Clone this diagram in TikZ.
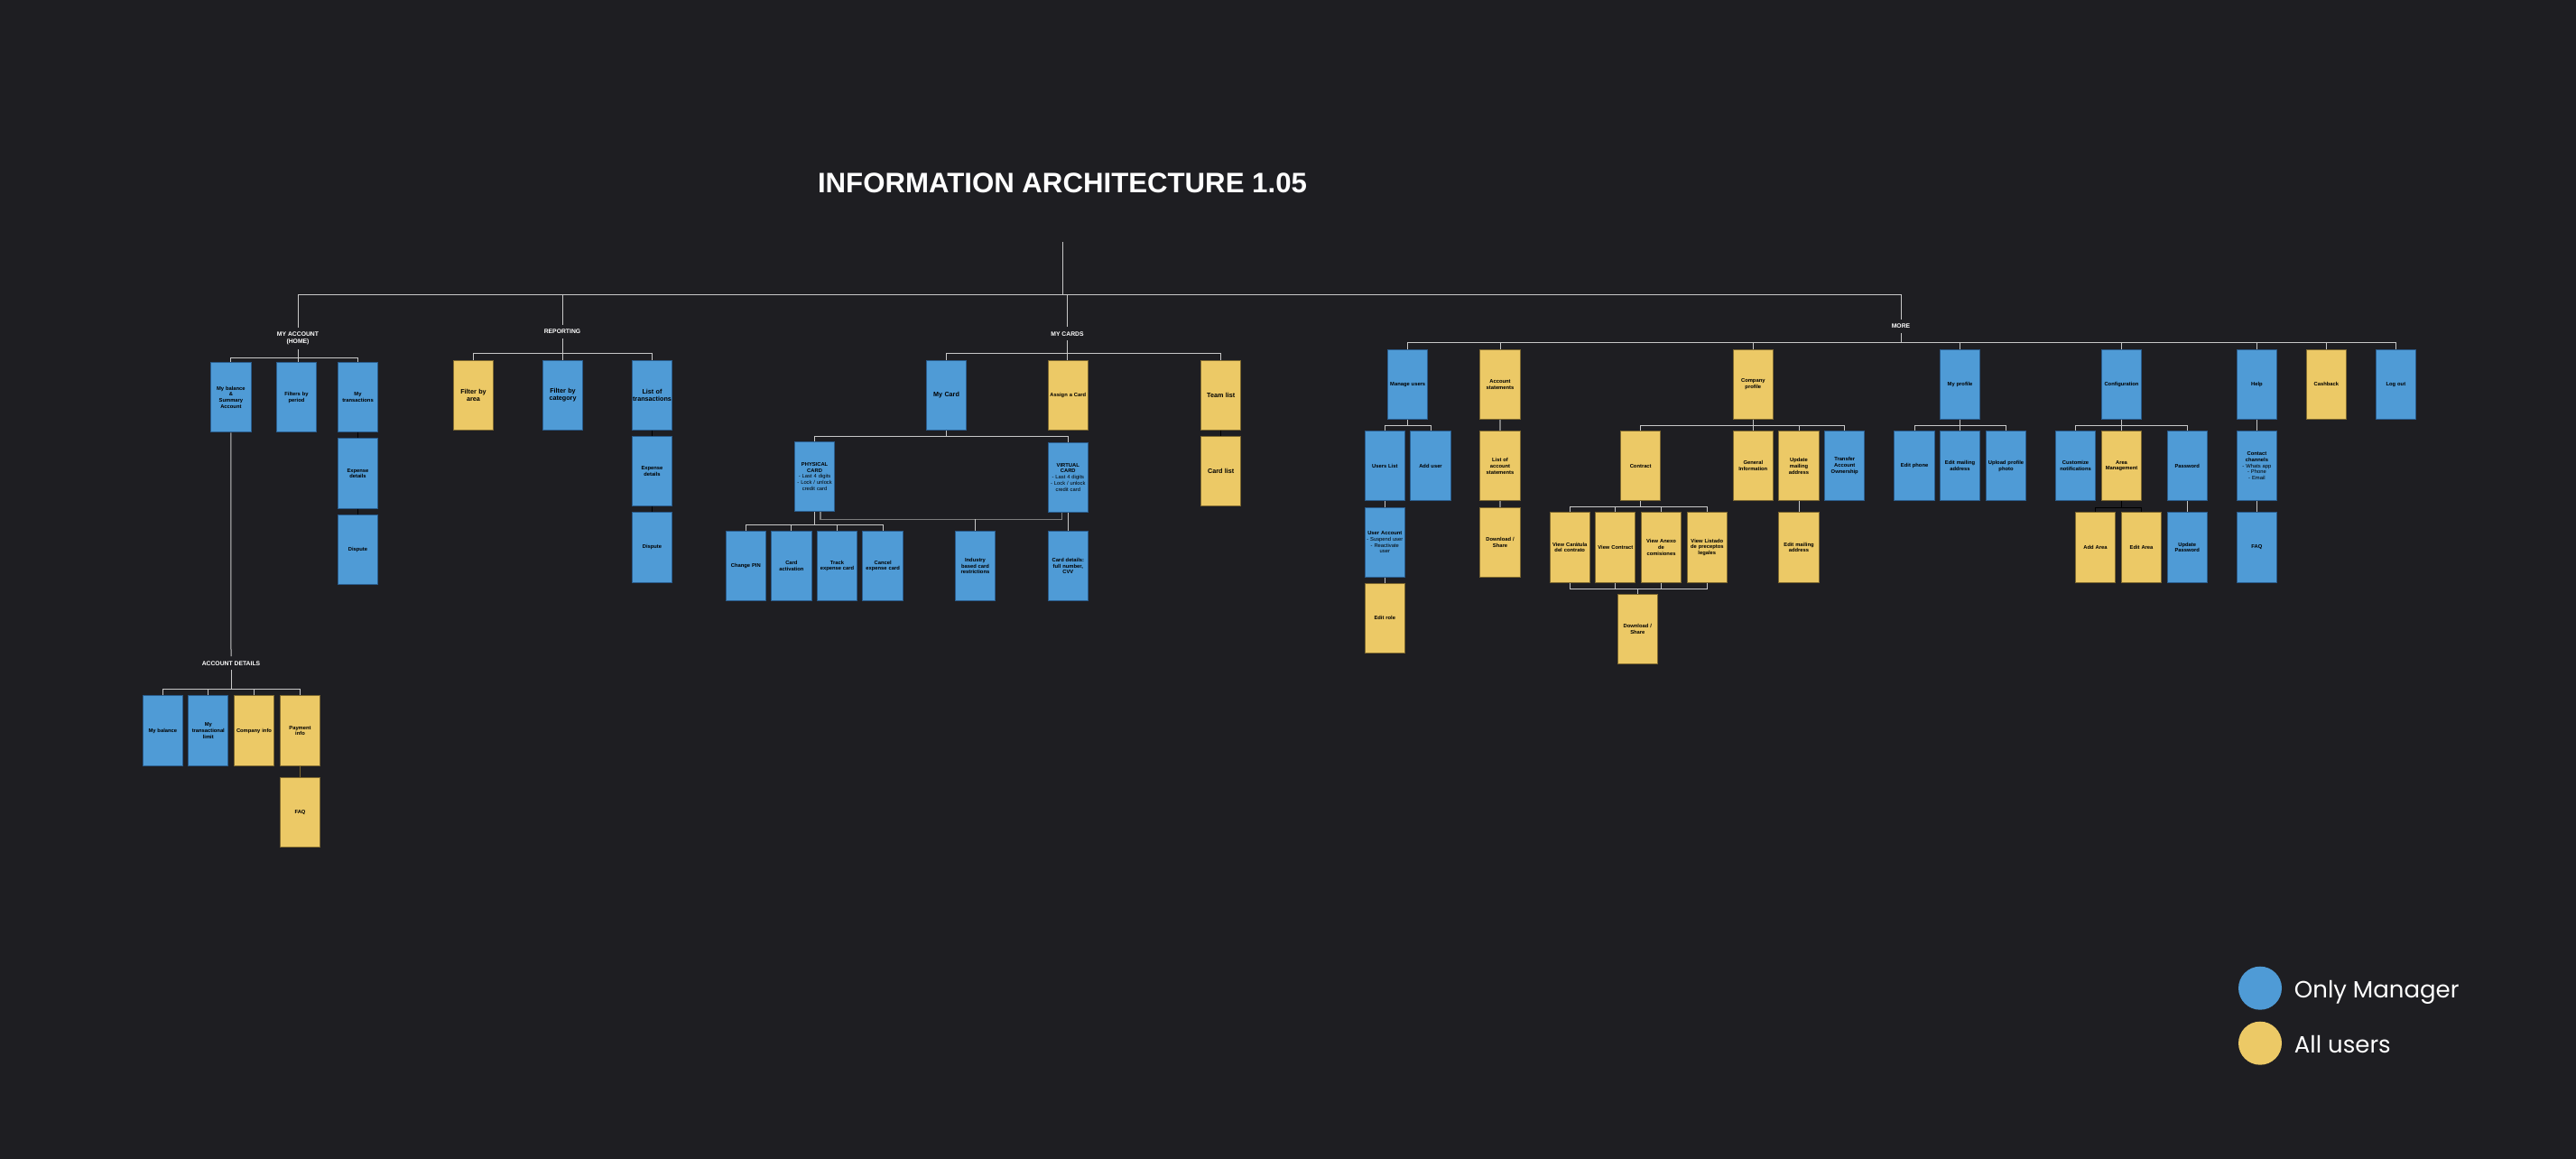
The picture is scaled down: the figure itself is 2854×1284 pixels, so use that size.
\documentclass[tikz,border=0pt]{standalone}
\usepackage{fontspec}
\setmainfont{Liberation Sans}
\newfontfamily\legendfont{Poppins}
\usetikzlibrary{calc}
\definecolor{bgc}{RGB}{30,30,34}
\definecolor{blueF}{RGB}{79,155,214}
\definecolor{blueD}{RGB}{42,92,140}
\definecolor{yelF}{RGB}{236,201,102}
\definecolor{yelD}{RGB}{125,104,48}
\definecolor{lineC}{RGB}{200,200,200}
\definecolor{lineM}{RGB}{125,125,125}
\begin{document}
\begin{tikzpicture}[x=1pt,y=-1pt,
 box/.style={rectangle, minimum width=44.3pt, minimum height=77.3pt, inner sep=0pt, text width=44pt, align=center, line width=1pt, font=\fontsize{5.8}{6.8}\selectfont\bfseries, text=black},
 mgr/.style={box, fill=blueF, draw=blueD},
 alu/.style={box, fill=yelF, draw=yelD},
 big/.style={font=\fontsize{7.2}{8.3}\selectfont\bfseries},
 thinfont/.style={font=\fontsize{5.8}{6.8}\selectfont},
 lbl/.style={text=white, font=\fontsize{6.8}{8.3}\selectfont\bfseries, align=center, inner xsep=2pt, inner ysep=5pt},
 conn/.style={draw=lineC, line width=1pt},
 dk/.style={draw=black, line width=1pt},
 md/.style={draw=lineM, line width=1.6pt},
 legdot/.style={circle, minimum size=48pt, inner sep=0pt},
 legtxt/.style={anchor=base west, text=white, inner sep=0pt, font=\legendfont\fontsize{26}{30}\selectfont}
]
\fill[bgc] (0,0) rectangle (2854,1284);
\useasboundingbox (0,0) rectangle (2854,1284);

% ---------- title and top level ----------
\node[text=white, font=\fontsize{31.2}{36}\selectfont\bfseries, anchor=base, inner sep=0pt] (tt) at (1177,213.3) {INFORMATION ARCHITECTURE 1.05};
\coordinate (ttl) at (1177,268);
\coordinate (hub) at (1177,326);

\node[lbl] (lbl1) at (330,375) {MY ACCOUNT\\(HOME)};
\node[lbl] (lbl2) at (623,367.3) {REPORTING};
\node[lbl] (lbl3) at (1182.5,369.7) {MY CARDS};
\node[lbl] (lbl4) at (2106,361.3) {MORE};
\node[lbl] (lbl5) at (256,734.7) {ACCOUNT DETAILS};

% ---------- my account ----------
\node[mgr] (mab) at (255.9,440.3) {My balance\\\&\\Summary\\Account};
\node[mgr] (fbp) at (328.5,440.3) {Filters by\\period};
\node[mgr] (myt) at (396.5,440.3) {My\\transactions};
\node[mgr] (exd1) at (396.5,524.5) {Expense\\details};
\node[mgr] (dsp1) at (396.5,608.7) {Dispute};

% ---------- account details ----------
\node[mgr] (adb) at (180.3,809.5) {My balance};
\node[mgr] (adl) at (230.8,809.5) {My\\transactional\\limit};
\node[alu] (adc) at (281.5,809.5) {Company info};
\node[alu] (adp) at (332.5,809.5) {Payment\\info};
\node[alu] (adf) at (332.5,899.8) {FAQ};

% ---------- reporting ----------
\node[alu,big] (fba) at (524.5,438) {Filter by\\area};
\node[mgr,big] (fbc) at (623.5,438) {Filter by\\category};
\node[mgr,big] (lot) at (722.5,438) {List of\\transactions};
\node[mgr] (exd2) at (722.5,522.2) {Expense\\details};
\node[mgr] (dsp2) at (722.5,606.4) {Dispute};

% ---------- my cards ----------
\node[mgr,big] (myc) at (1048.5,438) {My Card};
\node[alu] (asc) at (1183.3,438) {Assign a Card};
\node[alu,big] (tml) at (1352.7,438) {Team list};
\node[alu,big] (cdl) at (1352.7,522.2) {Card list};
\node[mgr,thinfont] (phy) at (902.6,528) {\textbf{PHYSICAL}\\\textbf{CARD}\\- Last 4 digits\\- Lock / unlock\\credit card};
\node[mgr,thinfont] (vir) at (1183.3,528.8) {\textbf{VIRTUAL}\\\textbf{CARD}\\- Last 4 digits\\- Lock / unlock\\credit card};
\node[mgr] (cpin) at (826.3,627) {Change PIN};
\node[mgr] (cact) at (876.9,627) {Card\\activation};
\node[mgr] (trk) at (927.5,627) {Track\\expense card};
\node[mgr] (cnl) at (978.1,627) {Cancel\\expense card};
\node[mgr] (ind) at (1080.5,627) {Industry\\based card\\restrictions};
\node[mgr] (cdd) at (1183.3,627) {Card details:\\full number,\\CVV};

% ---------- more ----------
\node[mgr] (mu) at (1559.7,425.7) {Manage users};
\node[alu] (as) at (1662,425.7) {Account\\statements};
\node[alu] (cp) at (1942.3,425.7) {Company\\profile};
\node[mgr] (mp) at (2171.5,425.7) {My profile};
\node[mgr] (cfg) at (2350.5,425.7) {Configuration};
\node[mgr] (hlp) at (2500.4,425.7) {Help};
\node[alu] (cb) at (2577.3,425.7) {Cashback};
\node[mgr] (lo) at (2654.4,425.7) {Log out};

\node[mgr] (ul) at (1534.3,516.2) {Users List};
\node[mgr] (au) at (1585,516.2) {Add user};
\node[alu] (las) at (1662,516.2) {List of\\account\\statements};
\node[alu] (ctr) at (1817.7,516.2) {Contract};
\node[alu] (gi) at (1942.3,516.2) {General\\Information};
\node[alu] (uma) at (1993,516.2) {Update\\mailing\\address};
\node[mgr] (tao) at (2043.7,516.2) {Transfer\\Account\\Ownership};
\node[mgr] (ep) at (2121.1,516.2) {Edit phone};
\node[mgr] (ema) at (2171.5,516.2) {Edit mailing\\address};
\node[mgr] (upp) at (2222.5,516.2) {Upload profile\\photo};
\node[mgr] (cn) at (2299.5,516.2) {Customize\\notifications};
\node[alu] (am) at (2350.5,516.2) {Area\\Management};
\node[mgr] (pw) at (2423.2,516.2) {Password};
\node[mgr,thinfont] (cc) at (2500.4,516.2) {\textbf{Contact}\\\textbf{channels}\\- Whats app\\- Phone\\- Email};

\node[mgr,thinfont] (ua) at (1534.3,600.7) {\textbf{User Account}\\- Suspend user\\- Reactivate\\user};
\node[alu] (dls) at (1662,600.7) {Download /\\Share};
\node[alu] (vcc) at (1739.2,606.4) {View Carátula\\del contrato};
\node[alu] (vc) at (1789.8,606.4) {View Contract};
\node[alu] (vac) at (1840.5,606.4) {View Anexo\\de\\comisiones};
\node[alu] (vlp) at (1891.3,606.4) {View Listado\\de preceptos\\legales};
\node[alu] (ema2) at (1993,606.4) {Edit mailing\\address};
\node[alu] (aa) at (2321.5,606.4) {Add Area};
\node[alu] (ea) at (2372.5,606.4) {Edit Area};
\node[mgr] (up) at (2423.2,606.4) {Update\\Password};
\node[mgr] (faq2) at (2500.4,606.4) {FAQ};

\node[alu] (er) at (1534.3,684.7) {Edit role};
\node[alu] (dls2) at (1814.3,697) {Download /\\Share};

% ---------- connectors: top ----------
\draw[conn] (ttl) -- (hub);
\draw[conn] (lbl1.north) -- (lbl1.north |- hub) -- (lbl4.north |- hub) -- (lbl4.north);
\draw[conn] (lbl2.north) -- (lbl2.north |- hub);
\draw[conn] (lbl3.north) -- (lbl3.north |- hub);

% my account
\draw[conn] (mab.north) -- ++(0,-5) -| (myt.north);
\draw[conn] (lbl1.south) -- (lbl1.south |- fbp.north);
\draw[dk] (myt.south) -- (exd1.north);
\draw[dk] (exd1.south) -- (dsp1.north);
\draw[conn] (mab.south) -- (lbl5.north);

% account details
\draw[conn] (adb.north) -- ++(0,-6.7) -| (adp.north);
\draw[conn] (adl.north) -- ++(0,-6.7);
\draw[conn] (adc.north) -- ++(0,-6.7);
\draw[conn] (lbl5.south) -- ($(lbl5.south |- adb.north)+(0,-6.7)$);
\draw[draw=yelD, line width=1pt] (adp.south) -- (adf.north);

% reporting
\draw[conn] (fba.north) -- ++(0,-7) -| (lot.north);
\draw[conn] (lbl2.south) -- (lbl2.south |- fbc.north);
\draw[dk] (lot.south) -- (exd2.north);
\draw[dk] (exd2.south) -- (dsp2.north);

% my cards
\draw[conn] (myc.north) -- ++(0,-7) -| (tml.north);
\draw[conn] (lbl3.south) -- (lbl3.south |- asc.north);
\draw[dk] (tml.south) -- (cdl.north);
\draw[conn] (myc.south) -- ++(0,6.6) -| (phy.north);
\draw[conn] (myc.south) -- ++(0,6.6) -| (vir.north);
\foreach \c in {cpin,cact,trk,cnl} \draw[conn] (phy.south) -- ++(0,14.6) -| (\c.north);
\draw[md] ([xshift=6.3pt]phy.south) -- ++(0,8.3) -| ([xshift=-6.7pt]vir.south);
\draw[conn] (ind.north) -- ++(0,-13.3);
\draw[conn] (vir.south) -- (cdd.north);

% more
\draw[conn] (mu.north) -- ++(0,-6.7) -| (lo.north);
\foreach \c in {as,cp,mp,cfg,hlp,cb} \draw[conn] (\c.north) -- ++(0,-6.7);
\draw[conn] (lbl4.south) -- ($(lbl4.south |- mu.north)+(0,-6.7)$);

\foreach \c in {ul,au} \draw[conn] (mu.south) -- ++(0,7) -| (\c.north);
\draw[conn] (ul.south) -- (ua.north);
\draw[conn] (ua.south) -- (er.north);
\draw[md] (as.south) -- (las.north);
\draw[md] (las.south) -- (dls.north);

\foreach \c in {ctr,gi,uma,tao} \draw[conn] (cp.south) -- ++(0,6.4) -| (\c.north);
\foreach \c in {vcc,vc,vac,vlp} \draw[conn] (ctr.south) -- ++(0,6.6) -| (\c.north);
\foreach \c in {vcc,vc,vac,vlp} \draw[conn] (\c.south) -- ++(0,6.7) -| (dls2.north);
\draw[conn] (uma.south) -- (ema2.north);

\foreach \c in {ep,ema,upp} \draw[conn] (mp.south) -- ++(0,6.4) -| (\c.north);
\foreach \c in {cn,am,pw} \draw[conn] (cfg.south) -- ++(0,6.4) -| (\c.north);
\foreach \c in {aa,ea} \draw[dk] (am.south) -- ++(0,7.6) -| (\c.north);
\draw[conn] (pw.south) -- (up.north);
\draw[conn] (hlp.south) -- (cc.north);
\draw[conn] (cc.south) -- (faq2.north);

% ---------- legend ----------
\node[legdot, fill=blueF] (lgb) at (2504,1094.7) {};
\node[legdot, fill=yelF] (lgy) at (2504,1155.7) {};
\node[legtxt] (lgbt) at (2541.7,1105) {Only Manager};
\node[legtxt] (lgyt) at (2541.7,1166.7) {All users};
\end{tikzpicture}
\end{document}
